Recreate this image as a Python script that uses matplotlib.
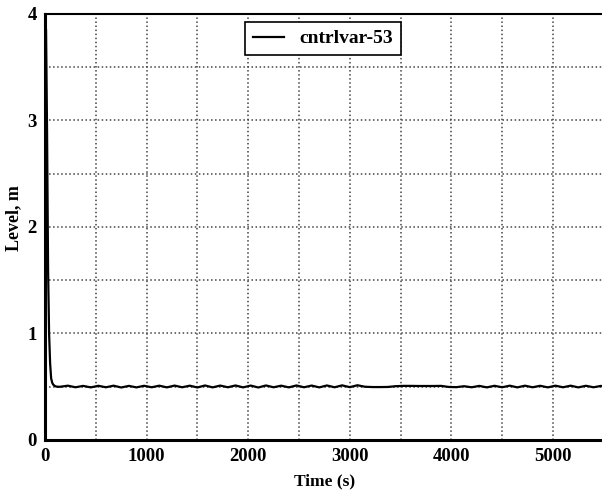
import matplotlib
matplotlib.use('Agg')
import matplotlib.pyplot as plt
from matplotlib.ticker import MultipleLocator

# Level history
time_start = [0, 10, 20, 30, 40, 50, 60, 70, 80, 100, 120]
level_start = [3.95, 3.85, 2.9, 1.6, 1.0, 0.72, 0.58, 0.54, 0.52, 0.505, 0.5]

time_rest = [150, 225, 300, 375, 450, 525, 600, 675, 750, 825, 900, 975, 1050,
             1125, 1200, 1275, 1350, 1425, 1500, 1575, 1650, 1725, 1800, 1875, 1950,
             2025, 2100, 2175, 2250, 2325, 2400, 2475, 2550, 2625, 2700, 2775, 2850,
             2925, 3000, 3075, 3150,
             3225, 3300, 3375, 3450, 3525, 3600, 3675, 3750, 3825, 3900,
             3975, 4050, 4125, 4200, 4275, 4350, 4425, 4500, 4575, 4650, 4725, 4800,
             4875, 4950, 5025, 5100, 5175, 5250, 5325, 5400, 5475, 5500]
level_rest = [0.500, 0.510, 0.495, 0.508, 0.494, 0.509, 0.495, 0.510, 0.493, 0.508, 0.494, 0.509, 0.495,
              0.510, 0.494, 0.511, 0.495, 0.510, 0.493, 0.512, 0.494, 0.511, 0.495, 0.512, 0.494,
              0.511, 0.493, 0.512, 0.495, 0.510, 0.494, 0.512, 0.495, 0.511, 0.494, 0.512, 0.495,
              0.513, 0.496, 0.514, 0.500,
              0.497, 0.497, 0.498, 0.505, 0.508, 0.508, 0.507, 0.507, 0.507, 0.508,
              0.498, 0.496, 0.505, 0.495, 0.508, 0.494, 0.509, 0.495, 0.510, 0.494, 0.510, 0.495,
              0.509, 0.494, 0.510, 0.495, 0.510, 0.494, 0.509, 0.495, 0.508, 0.500]

time = time_start + time_rest
level = level_start + level_rest

x_ticks = [0, 1000, 2000, 3000, 4000, 5000]
y_ticks = [0, 1, 2, 3, 4]

font = 'Liberation Serif'

fig = plt.figure(figsize=(6.02, 4.92), dpi=100)
ax = fig.add_axes([0.0748, 0.1057, 0.928, 0.8659])
ax.plot(time, level, color='black', linewidth=1.6, label='cntrlvar-53')

ax.set_xlim(0, 5500)
ax.set_ylim(0, 4)
ax.set_xticks(x_ticks)
ax.set_yticks(y_ticks)
ax.xaxis.set_minor_locator(MultipleLocator(500))
ax.yaxis.set_minor_locator(MultipleLocator(0.5))
ax.grid(which='both', linestyle=':', color='#444444', linewidth=1.1)
ax.tick_params(which='both', length=0, pad=6)
for lab in ax.get_xticklabels() + ax.get_yticklabels():
    lab.set_fontfamily(font)
    lab.set_fontweight('bold')
    lab.set_fontsize(13.5)

for side in ['left', 'bottom']:
    ax.spines[side].set_linewidth(2.2)
ax.spines['top'].set_linewidth(1.5)
ax.spines['right'].set_visible(False)

ax.set_xlabel('Time (s)', fontfamily=font, fontweight='bold', fontsize=12.5, labelpad=6)
ax.set_ylabel('Level, m', fontfamily=font, fontweight='bold', fontsize=13)
ax.yaxis.set_label_coords(-0.041, 0.52)

leg = ax.legend(loc='upper center', bbox_to_anchor=(0.497, 0.981), borderaxespad=0,
                fancybox=False, framealpha=1, edgecolor='black', handlelength=1.6,
                prop={'family': font, 'weight': 'bold', 'size': 14})
leg.get_frame().set_linewidth(1.2)

fig.savefig('out.png', dpi=100)
